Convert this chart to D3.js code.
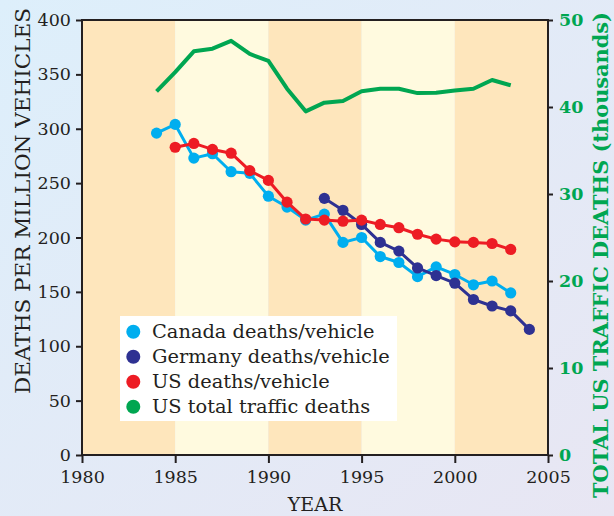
<!DOCTYPE html>
<html>
<head>
<meta charset="utf-8">
<script src="https://cdn.jsdelivr.net/npm/d3@7/dist/d3.min.js"></script>
<style>
  html, body { margin: 0; padding: 0; }
  svg { display: block; }
  text { font-family: "DejaVu Serif", serif; }
</style>
</head>
<body>
<svg id="chart" width="614" height="516"></svg>
<script>
// ---- Data ----
const canadaYears = d3.range(1984, 2004);
const canadaValues = [296, 304, 273, 277, 260.5, 259, 238, 228, 216, 221.5, 195.5, 200, 182.5, 177, 164, 173, 166, 156.5, 160, 149];

const germanyYears = d3.range(1993, 2005);
const germanyValues = [236, 225, 212, 195.5, 187.5, 172, 165, 158, 143, 137, 132.5, 115.5];

const usYears = d3.range(1985, 2004);
const usValues = [283, 286.5, 281, 277.5, 261.5, 252.5, 232.5, 217, 216, 215, 216, 212, 209, 203, 198.5, 196, 195.5, 194.5, 189];

const usTotalYears = d3.range(1984, 2004);
const usTotalValues = [41.8, 44.0, 46.4, 46.7, 47.6, 46.1, 45.3, 42.1, 39.5, 40.5, 40.7, 41.8, 42.1, 42.1, 41.6, 41.65, 41.9, 42.1, 43.1, 42.5];

const xTicks = [1980, 1985, 1990, 1995, 2000, 2005];
const yLeftTicks = [0, 50, 100, 150, 200, 250, 300, 350, 400];
const yRightTicks = [0, 10, 20, 30, 40, 50];
const bandStarts = [1980, 1985, 1990, 1995, 2000];

const legendLabels = ["Canada deaths/vehicle", "Germany deaths/vehicle", "US deaths/vehicle", "US total traffic deaths"];
const colors = { canada: "#00aeef", germany: "#2e3192", us: "#ed1c24", total: "#00a651" };

// ---- Layout ----
const svg = d3.select("#chart");
const W = 614, H = 516;
const pLeft = 82, pRight = 548, pTop = 20, pBottom = 455;
const ink = "#231f20";

const x = d3.scaleLinear().domain([1980, 2005]).range([pLeft, pRight]);
const yL = d3.scaleLinear().domain([0, 400]).range([pBottom, pTop]);
const yR = d3.scaleLinear().domain([0, 50]).range([pBottom, pTop]);

// background gradient
const defs = svg.append("defs");
const grad = defs.append("linearGradient").attr("id", "bg").attr("x1", 0).attr("y1", 0).attr("x2", 1).attr("y2", 1);
grad.append("stop").attr("offset", "0%").attr("stop-color", "#ddeffb");
grad.append("stop").attr("offset", "100%").attr("stop-color", "#e8e6f3");
svg.append("rect").attr("width", W).attr("height", H).attr("fill", "url(#bg)");

// bands
svg.append("g").selectAll("rect").data(bandStarts).join("rect")
  .attr("x", d => x(d)).attr("y", pTop)
  .attr("width", d => x(d + 5) - x(d)).attr("height", pBottom - pTop)
  .attr("fill", (d, i) => i % 2 === 0 ? "#fee6bc" : "#fffadf");

// legend box (behind data)
const lg = svg.append("g");
lg.append("rect").attr("x", 120).attr("y", 316).attr("width", 277).attr("height", 105).attr("fill", "#ffffff");

// series
function drawSeries(years, values, yScale, color, lw, dots) {
  const pts = years.map((yr, i) => [yr, values[i]]);
  const line = d3.line().x(d => x(d[0])).y(d => yScale(d[1]));
  svg.append("path").datum(pts).attr("d", line)
    .attr("fill", "none").attr("stroke", color).attr("stroke-width", lw)
    .attr("stroke-linejoin", "round");
  if (dots) {
    svg.append("g").selectAll("circle").data(pts).join("circle")
      .attr("cx", d => x(d[0])).attr("cy", d => yScale(d[1])).attr("r", 5.6)
      .attr("fill", color);
  }
}
drawSeries(canadaYears, canadaValues, yL, colors.canada, 3, true);
drawSeries(germanyYears, germanyValues, yL, colors.germany, 3, true);
drawSeries(usYears, usValues, yL, colors.us, 3, true);
drawSeries(usTotalYears, usTotalValues, yR, colors.total, 4, false);

// frame
svg.append("rect").attr("x", pLeft).attr("y", pTop).attr("width", pRight - pLeft).attr("height", pBottom - pTop)
  .attr("fill", "none").attr("stroke", ink).attr("stroke-width", 2);

// axes
const axL = svg.append("g").attr("transform", `translate(${pLeft},0)`)
  .call(d3.axisLeft(yL).tickValues(yLeftTicks).tickSize(6).tickPadding(5));
const axB = svg.append("g").attr("transform", `translate(0,${pBottom})`)
  .call(d3.axisBottom(x).tickValues(xTicks).tickFormat(d3.format("d")).tickSize(8).tickPadding(8));
const axR = svg.append("g").attr("transform", `translate(${pRight},0)`)
  .call(d3.axisRight(yR).tickValues(yRightTicks).tickSize(5).tickPadding(6));

[axL, axB, axR].forEach(a => {
  a.select(".domain").remove();
  a.selectAll(".tick line").attr("stroke", ink).attr("stroke-width", 2);
  a.selectAll(".tick text").attr("fill", ink).style("font-size", "17.5px").style("font-family", "DejaVu Serif, serif");
});
axR.selectAll(".tick text").attr("fill", colors.total).style("font-weight", "bold");

// axis titles
svg.append("text").attr("x", 315).attr("y", 511).attr("text-anchor", "middle")
  .attr("fill", ink).style("font-size", "19px").text("YEAR");

svg.append("text").attr("transform", `translate(30,${(7 + 395) / 2}) rotate(-90)`)
  .attr("text-anchor", "middle").attr("fill", ink).style("font-size", "21px")
  .attr("textLength", 386).attr("lengthAdjust", "spacingAndGlyphs")
  .text("DEATHS PER MILLION VEHICLES");

svg.append("text").attr("transform", `translate(608,${(10 + 500) / 2}) rotate(-90)`)
  .attr("text-anchor", "middle").attr("fill", colors.total).style("font-size", "21px").style("font-weight", "bold")
  .attr("textLength", 486).attr("lengthAdjust", "spacingAndGlyphs")
  .text("TOTAL US TRAFFIC DEATHS (thousands)");

// legend entries
const legendColors = [colors.canada, colors.germany, colors.us, colors.total];
const rows = lg.selectAll("g.row").data(legendLabels).join("g").attr("class", "row")
  .attr("transform", (d, i) => `translate(0,${338.3 + i * 25})`);
rows.append("circle").attr("cx", 133.3).attr("cy", -6.6).attr("r", 7).attr("fill", (d, i) => legendColors[i]);
rows.append("text").attr("x", 152).attr("y", 0).attr("fill", ink).style("font-size", "19.4px").text(d => d);
</script>
</body>
</html>
